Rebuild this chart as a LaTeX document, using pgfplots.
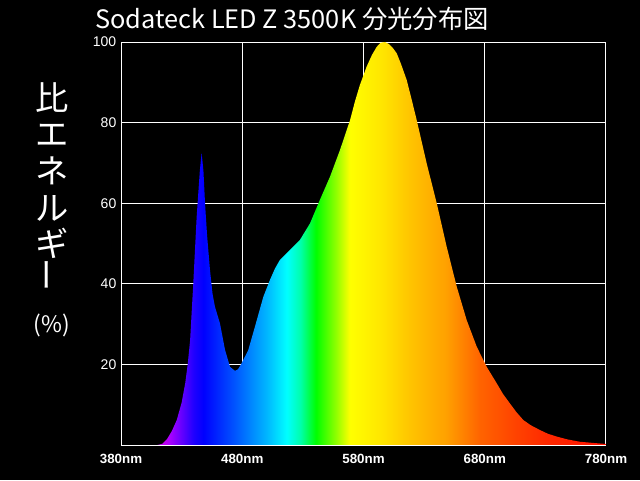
\documentclass[border=0pt]{standalone}
\usepackage{fontspec}
\setmainfont{Noto Sans CJK JP}
\newfontfamily\tickfont{Liberation Sans}
\usepackage{graphicx}
\usepackage{pgfplots}
\pgfplotsset{compat=1.18}

% spectrum colours, 25bp = 380nm, 75bp = 780nm
\pgfdeclarehorizontalshading{spectrum}{100bp}{
  rgb(0bp)=(0.70,0,0.90);
  rgb(25bp)=(0.70,0,0.90);
  rgb(29.4bp)=(0.75,0,0.94);
  rgb(30bp)=(0.67,0,1);
  rgb(31.25bp)=(0.39,0,1);
  rgb(32.5bp)=(0.12,0,1);
  rgb(33.5bp)=(0,0,1);
  rgb(36.5bp)=(0,0.31,1);
  rgb(40bp)=(0,0.71,1);
  rgb(42.1bp)=(0,1,1);
  rgb(43.5bp)=(0,1,0.67);
  rgb(45.1bp)=(0,1,0);
  rgb(47.25bp)=(0.59,1,0);
  rgb(48.6bp)=(1,1,0);
  rgb(51.9bp)=(1,0.9,0);
  rgb(55bp)=(1,0.76,0);
  rgb(58.5bp)=(1,0.63,0);
  rgb(62bp)=(1,0.39,0);
  rgb(65.4bp)=(1,0.27,0);
  rgb(68.9bp)=(1,0.16,0);
  rgb(74bp)=(1,0.08,0);
  rgb(75bp)=(1,0.08,0);
  rgb(100bp)=(1,0.08,0)}

\begin{document}
\begin{tikzpicture}
\fill[black] (0,0) rectangle (480pt,360pt);
\begin{axis}[
  at={(90.75pt,26.25pt)}, anchor=south west,
  scale only axis, width=363.75pt, height=302.25pt,
  xmin=380, xmax=780, ymin=0, ymax=100,
  xtick={380,480,580,680,780},
  xticklabels={380nm,480nm,580nm,680nm,780nm},
  ytick={20,40,60,80,100},
  yticklabels={20,40,60,80,100},
  xticklabel style={font=\tickfont\bfseries\fontsize{10}{10}\selectfont, white, yshift=-3pt},
  yticklabel style={font=\tickfont\fontsize{10.5}{10.5}\selectfont, white},
  major tick length=0pt,
  grid=major, grid style={white, line width=0.75pt},
  axis line style={white, line width=0.75pt},
]
\addplot[draw=none, shading=spectrum] coordinates {
(380,0) (410,0) (414,0.3) (418,1.5) (422,3.5) (426,6.2) (430,10.5) (433,15.4)
(435,20) (437,26) (439.6,40) (442.4,56.6) (445,68) (446.5,72.5) (448,68)
(449.3,60) (451,52) (453.4,43.4) (455.5,37.5) (457.5,34.3) (461.6,30.2)
(465.8,23.6) (469.9,19.4) (474,18.4) (476.5,18.8) (479.5,20.3) (485,23.6)
(490.5,29.4) (497.4,36.8) (502.9,41) (507,43.8) (511,45.9) (519.4,48.4)
(527.6,50.9) (535.9,55) (544,60.8) (552.4,66.6) (560.6,73.2) (568.9,80.6)
(573,85.3) (577,89.3) (582.6,93.9) (587,96.8) (590.9,98.8) (594,99.8)
(597.7,100) (601,99.5) (604,98.6) (607.4,97.2) (611,94.5) (615.6,90.6)
(619.5,86) (623.9,80.6) (632.1,69.9) (640.4,60) (648.6,49.2) (656.9,39.3)
(665.1,31) (673.4,24.4) (681.6,19.4) (689.9,15.3) (695,12.7) (700.8,10.3)
(706,8.2) (711.8,6.2) (718,4.9) (725.6,3.7) (732,2.8) (739.3,2.1)
(748,1.4) (758.6,0.8) (770,0.5) (780,0.25)
} \closedcycle;
\addplot[white, line width=0.75pt] coordinates {(380,0) (780,0)};
\end{axis}
\node[white, font=\fontsize{19}{19}\selectfont] at (219pt,345.75pt)
  {Sodateck LED Z 3500K 分光分布図};
\begin{scope}[every node/.style={white, font=\fontsize{25}{25}\selectfont}]
\node at (39pt,286.9pt) {比};
\node at (39pt,258.75pt) {エ};
\node at (39pt,231.75pt) {ネ};
\node at (39pt,204pt) {ル};
\node at (39pt,177.4pt) {ギ};
\node at (39pt,153.75pt) {\rotatebox{90}{ー}};
\end{scope}
\node[white, font=\fontsize{17}{17}\selectfont] at (39pt,116.25pt) {(\%)};
\end{tikzpicture}
\end{document}
